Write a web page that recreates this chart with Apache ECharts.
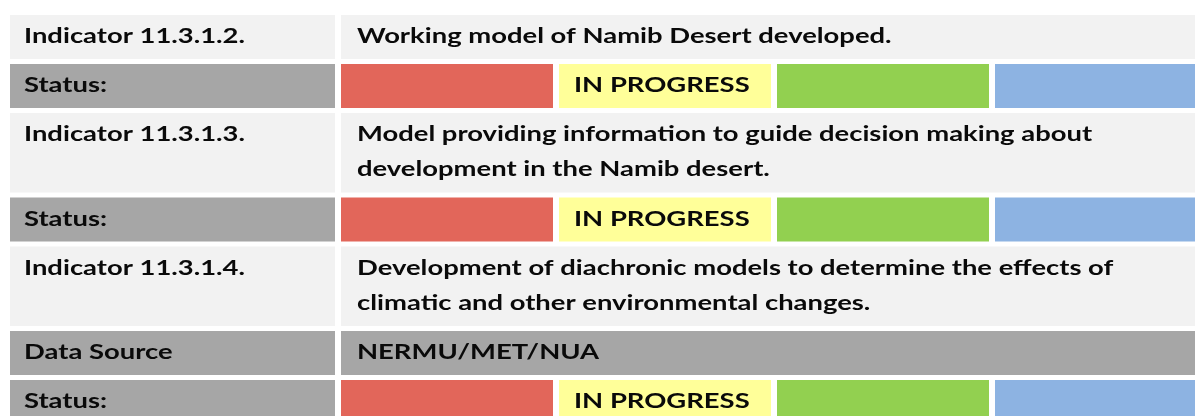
<!DOCTYPE html>
<html>
<head>
<meta charset="utf-8">
<script src="https://cdn.jsdelivr.net/npm/echarts@6/dist/echarts.min.js"></script>
<style>
html,body{margin:0;padding:0;background:#fff;overflow:hidden;width:1195px;height:416px;}
#main{width:1230px;height:440px;}
</style>
</head>
<body>
<div id="main"></div>
<script>
// ---- data ----
const rowLabels = ['Indicator 11.3.1.2.', 'Status:', 'Indicator 11.3.1.3.', 'Status:', 'Indicator 11.3.1.4.', 'Data Source', 'Status:'];
const rowKinds = ['indicator', 'status', 'indicator', 'status', 'indicator', 'source', 'status'];
const rowTexts = [
  'Working model of Namib Desert developed.',
  '',
  'Model providing information to guide decision making about\ndevelopment in the Namib desert.',
  '',
  'Development of diachronic models to determine the effects of\nclimatic and other environmental changes.',
  'NERMU/MET/NUA',
  ''
];
const statusSteps = ['', 'IN PROGRESS', '', ''];

// ---- layout / style (not data) ----
const colAW = 325, gapX = 6, segW = 212, gapY = 5, rowH = 44, extraLine = 35.5, lineH = 35;
const statusColors = ['#E2665A', '#FFFF99', '#92D050', '#8DB3E2'];
const fill = { indicator: '#F2F2F2', status: '#A6A6A6', source: '#A6A6A6' };
const fontFamily = 'Lato, "Open Sans", sans-serif';
const fontSize = 20;
const stretch = 1.37;

const cells = [];
let y = 0;
rowLabels.forEach((lab, i) => {
  const lines = Math.max(1, rowTexts[i].split('\n').length);
  const h = rowH + (lines - 1) * extraLine;
  const kind = rowKinds[i];
  cells.push([0, colAW, y, y + h, lab, fill[kind], 14]);
  const bx = colAW + gapX;
  if (kind === 'status') {
    statusSteps.forEach((s, k) => {
      const x0 = bx + k * (segW + gapX);
      cells.push([x0, x0 + segW, y, y + h, s, statusColors[k], 15]);
    });
  } else {
    cells.push([bx, bx + 4 * segW + 3 * gapX, y, y + h, rowTexts[i], fill[kind], 16]);
  }
  y += h + gapY;
});
const totalW = colAW + gapX + 4 * segW + 3 * gapX;
const totalH = y - gapY;

const chart = echarts.init(document.getElementById('main'), null, { renderer: 'canvas' });
chart.setOption({
  backgroundColor: '#ffffff',
  animation: false,
  grid: { left: 10, top: 15, width: totalW, height: totalH },
  xAxis: { type: 'value', min: 0, max: totalW, show: false },
  yAxis: { type: 'value', min: 0, max: totalH, inverse: true, show: false },
  series: [{
    type: 'custom',
    clip: false,
    data: cells,
    renderItem: function (params, api) {
      const p0 = api.coord([api.value(0), api.value(2)]);
      const p1 = api.coord([api.value(1), api.value(3)]);
      const firstLine = api.coord([api.value(0), api.value(2) + rowH / 2]);
      const d = cells[params.dataIndex];
      return {
        type: 'group',
        children: [
          { type: 'rect', shape: { x: p0[0], y: p0[1], width: p1[0] - p0[0], height: p1[1] - p0[1] },
            style: { fill: d[5] } },
          { type: 'text', x: p0[0] + d[6], y: firstLine[1] - lineH / 2, scaleX: stretch,
            style: { text: d[4], fill: '#0a0a0a', font: 'bold ' + fontSize + 'px ' + fontFamily,
                     textVerticalAlign: 'top', textAlign: 'left', lineHeight: lineH } }
        ]
      };
    }
  }]
});
</script>
</body>
</html>
